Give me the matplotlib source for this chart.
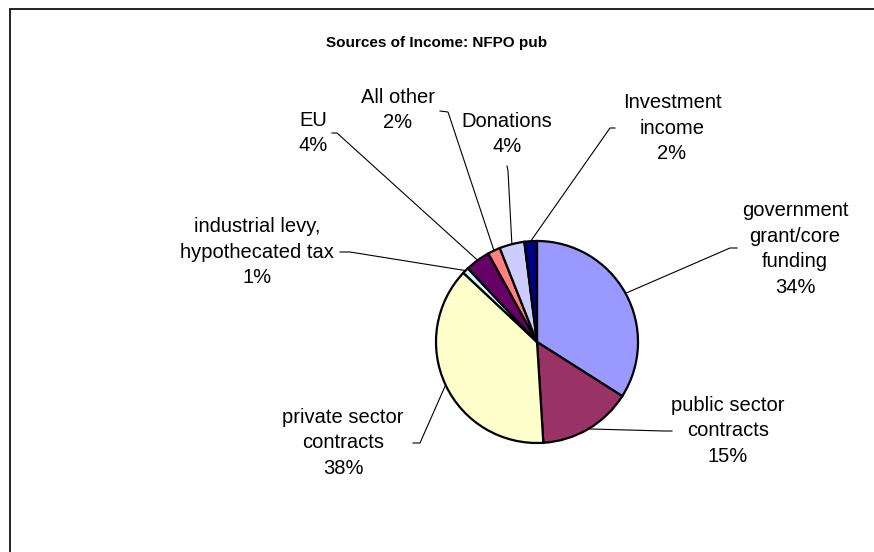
import numpy as np
import matplotlib.pyplot as plt
from matplotlib.patches import Rectangle

plt.rcParams['font.family'] = ['Liberation Sans', 'DejaVu Sans']

# income shares (%), clockwise from 12 o'clock
labels = ["government\ngrant/core\nfunding", "public sector\ncontracts", "private sector\ncontracts",
          "industrial levy,\nhypothecated tax", "EU", "All other", "Donations", "Investment\nincome"]
shares = [34, 15, 38, 1, 4, 2, 4, 2]
colors = ["#9999FF", "#993366", "#FFFFCC", "#CCFFFF", "#660066", "#FF8080", "#CCCCFF", "#000080"]

# label placement in pixels (x, y from top): text centre, elbow, line end at text
text_pos = [(795, 249), (728, 431), (343, 443), (257, 252), (313, 133), (398, 110), (507, 134), (672, 128)]
elbow = [(730, 248), (664, 431), (420, 443), (350, 252), (337, 133), (448, 112), (508, 171), (610, 128)]
line_end = [(737, 248), (672, 431), (413, 443), (340, 252), (332, 133), (440, 111), (507, 166), (615, 128)]

W, H = 874, 552
cx, cy, r = 537, 342, 101

fig = plt.figure(figsize=(W / 100, H / 100), dpi=100)
ax = fig.add_axes([0, 0, 1, 1])
ax.set_xlim(0, W)
ax.set_ylim(0, H)
ax.set_aspect('equal')
ax.axis('off')

# chart area frame (only top and left edges fall inside the image)
ax.add_patch(Rectangle((10, -20), W + 20, H - 9 + 20, fill=False, edgecolor='black', linewidth=1.2))

wedges, _ = ax.pie(shares, colors=colors, startangle=90, counterclock=False,
                   center=(cx, H - cy), radius=r,
                   wedgeprops=dict(edgecolor='black', linewidth=1.6))
ax.set_xlim(0, W)
ax.set_ylim(0, H)

for w, lab, val, tp, el, le in zip(wedges, labels, shares, text_pos, elbow, line_end):
    mid = np.deg2rad((w.theta1 + w.theta2) / 2)
    px = cx + r * np.cos(mid)
    py = (H - cy) + r * np.sin(mid)
    ax.plot([px, el[0], le[0]], [py, H - el[1], H - le[1]], color='black', linewidth=0.8)
    ax.text(tp[0], H - tp[1], f"{lab}\n{val}%", ha='center', va='center',
            fontsize=14.5, linespacing=1.45, color='black')

ax.text(437, H - 43, "Sources of Income: NFPO pub", ha='center', va='center',
        fontsize=11, fontweight='bold')

fig.savefig("out.png", dpi=100)
